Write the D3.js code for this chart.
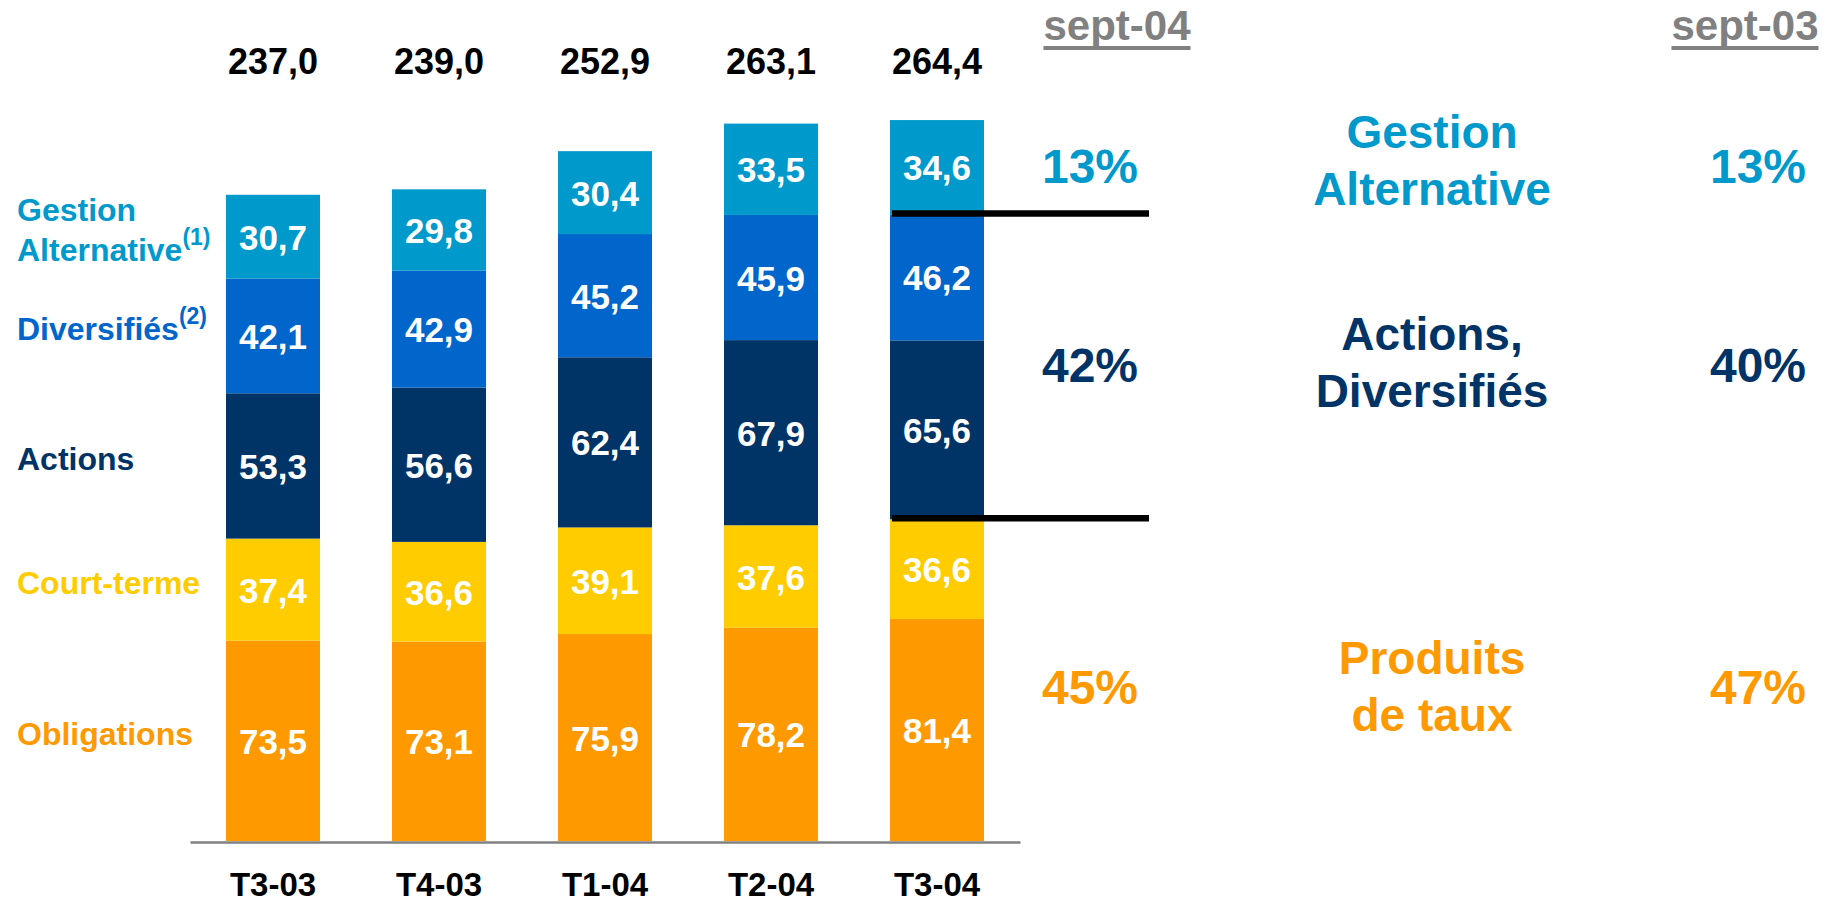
<!DOCTYPE html>
<html>
<head>
<meta charset="utf-8">
<script src="https://cdn.jsdelivr.net/npm/d3@7"></script>
<style>
body { margin: 0; background: #fff; }
svg text { font-family: "Liberation Sans", Arial, sans-serif; font-weight: bold; }
</style>
</head>
<body>
<div id="vis"></div>
<script>
// data (Md€)
var quarters = ['T3-03', 'T4-03', 'T1-04', 'T2-04', 'T3-04'];
var obligations = [73.5, 73.1, 75.9, 78.2, 81.4];
var courtTerme = [37.4, 36.6, 39.1, 37.6, 36.6];
var actions = [53.3, 56.6, 62.4, 67.9, 65.6];
var diversifies = [42.1, 42.9, 45.2, 45.9, 46.2];
var gestionAlt = [30.7, 29.8, 30.4, 33.5, 34.6];
var totals = [237.0, 239.0, 252.9, 263.1, 264.4];

var seriesKeys = ['obl', 'ct', 'act', 'div', 'ga'];
var seriesColors = ['#ff9900', '#ffcc00', '#003366', '#0066cc', '#0099cc'];
var legendLines = [['Obligations'], ['Court-terme'], ['Actions'], ['Diversifiés'], ['Gestion', 'Alternative']];
var legendNotes = ['', '', '', '(2)', '(1)'];

var periods = ['sept-04', 'sept-03'];
var groupLines = [['Gestion', 'Alternative'], ['Actions,', 'Diversifiés'], ['Produits', 'de taux']];
var groupColors = ['#0099cc', '#003366', '#ff9900'];
var pctSept04 = ['13%', '42%', '45%'];
var pctSept03 = ['13%', '40%', '47%'];

var width = 1837,
    height = 904;

var svg = d3.select('#vis')
    .append('svg')
    .attr('width', width)
    .attr('height', height);

var rows = quarters.map(function(q, i) {
    return { q: q, obl: obligations[i], ct: courtTerme[i], act: actions[i], div: diversifies[i], ga: gestionAlt[i] };
});

var stacked = d3.stack().keys(seriesKeys)(rows);

var x = d3.scaleBand()
    .domain(quarters)
    .range([190, 1020])
    .paddingInner(0.4337)
    .paddingOuter(0.2169);

var y = d3.scaleLinear()
    .domain([0, 300])
    .range([841, 23]);

var fmt = function(v) {
    return d3.format('.1f')(v).replace('.', ',');
};

// stacked bars
var layers = svg.selectAll('.layer')
    .data(stacked)
    .enter()
    .append('g')
    .attr('class', 'layer')
    .attr('fill', function(d, i) { return seriesColors[i]; });

layers.selectAll('rect')
    .data(function(d) { return d; })
    .enter()
    .append('rect')
    .attr('x', function(d) { return x(d.data.q); })
    .attr('width', x.bandwidth())
    .attr('y', function(d) { return y(d[1]); })
    .attr('height', function(d) { return y(d[0]) - y(d[1]); });

layers.selectAll('.val')
    .data(function(d) { return d; })
    .enter()
    .append('text')
    .attr('class', 'val')
    .attr('x', function(d) { return x(d.data.q) + x.bandwidth() / 2; })
    .attr('y', function(d) { return (y(d[0]) + y(d[1])) / 2 + 13; })
    .attr('text-anchor', 'middle')
    .attr('fill', '#fff')
    .attr('font-size', 35)
    .text(function(d) { return fmt(d[1] - d[0]); });

// totals
svg.selectAll('.total')
    .data(totals)
    .enter()
    .append('text')
    .attr('class', 'total')
    .attr('x', function(d, i) { return x(quarters[i]) + x.bandwidth() / 2; })
    .attr('y', 74)
    .attr('text-anchor', 'middle')
    .attr('fill', '#000')
    .attr('font-size', 36)
    .text(fmt);

// x axis
var xAxis = svg.append('g')
    .attr('transform', 'translate(0,842)')
    .call(d3.axisBottom(x).tickSize(0).tickSizeOuter(0));

xAxis.select('.domain')
    .attr('stroke', '#808080')
    .attr('stroke-width', 2.5);

xAxis.selectAll('text')
    .attr('y', 54)
    .attr('dy', null)
    .attr('fill', '#000')
    .attr('font-size', 33)
    .style('font-family', '"Liberation Sans", Arial, sans-serif')
    .style('font-weight', 'bold');

// left legend, aligned on the first bar
var first = stacked.map(function(s) { return s[0]; });

legendLines.forEach(function(lines, i) {
    var mid = (y(first[i][0]) + y(first[i][1])) / 2;
    var t = svg.append('text')
        .attr('fill', seriesColors[i])
        .attr('font-size', 32);
    lines.forEach(function(line, j) {
        var ts = t.append('tspan')
            .attr('x', 17)
            .attr('y', mid + 4 + (j - (lines.length - 1) / 2) * 40)
            .text(line);
        if (j === lines.length - 1 && legendNotes[i]) {
            t.append('tspan')
                .attr('dy', -16)
                .attr('font-size', 23)
                .text(legendNotes[i]);
        }
    });
});

// separators on the last bar
var last = stacked.map(function(s) { return s[s.length - 1]; });
var sepValues = [last[3][1], last[1][1]];

svg.selectAll('.sep')
    .data(sepValues)
    .enter()
    .append('line')
    .attr('class', 'sep')
    .attr('x1', x('T3-04') + 2)
    .attr('x2', 1149)
    .attr('y1', function(d) { return y(d) - 1; })
    .attr('y2', function(d) { return y(d) - 1; })
    .attr('stroke', '#000')
    .attr('stroke-width', 6.5);

// period headers
var periodX = [1117, 1745];
periods.forEach(function(p, i) {
    var t = svg.append('text')
        .attr('x', periodX[i])
        .attr('y', 40)
        .attr('text-anchor', 'middle')
        .attr('fill', '#808080')
        .attr('font-size', 42)
        .text(p);
    var w = t.node().getComputedTextLength();
    svg.append('rect')
        .attr('x', periodX[i] - w / 2)
        .attr('y', 46)
        .attr('width', w)
        .attr('height', 4)
        .attr('fill', '#808080');
});

// group names and shares
var groupBase = [148, 350, 674];
var pctBase = [183, 382, 704];

groupLines.forEach(function(lines, i) {
    var t = svg.append('text')
        .attr('text-anchor', 'middle')
        .attr('fill', groupColors[i])
        .attr('font-size', 46);
    lines.forEach(function(line, j) {
        t.append('tspan')
            .attr('x', 1432)
            .attr('y', groupBase[i] + j * 57)
            .text(line);
    });

    svg.append('text')
        .attr('x', 1090)
        .attr('y', pctBase[i])
        .attr('text-anchor', 'middle')
        .attr('fill', groupColors[i])
        .attr('font-size', 48)
        .text(pctSept04[i]);

    svg.append('text')
        .attr('x', 1758)
        .attr('y', pctBase[i])
        .attr('text-anchor', 'middle')
        .attr('fill', groupColors[i])
        .attr('font-size', 48)
        .text(pctSept03[i]);
});
</script>
</body>
</html>
